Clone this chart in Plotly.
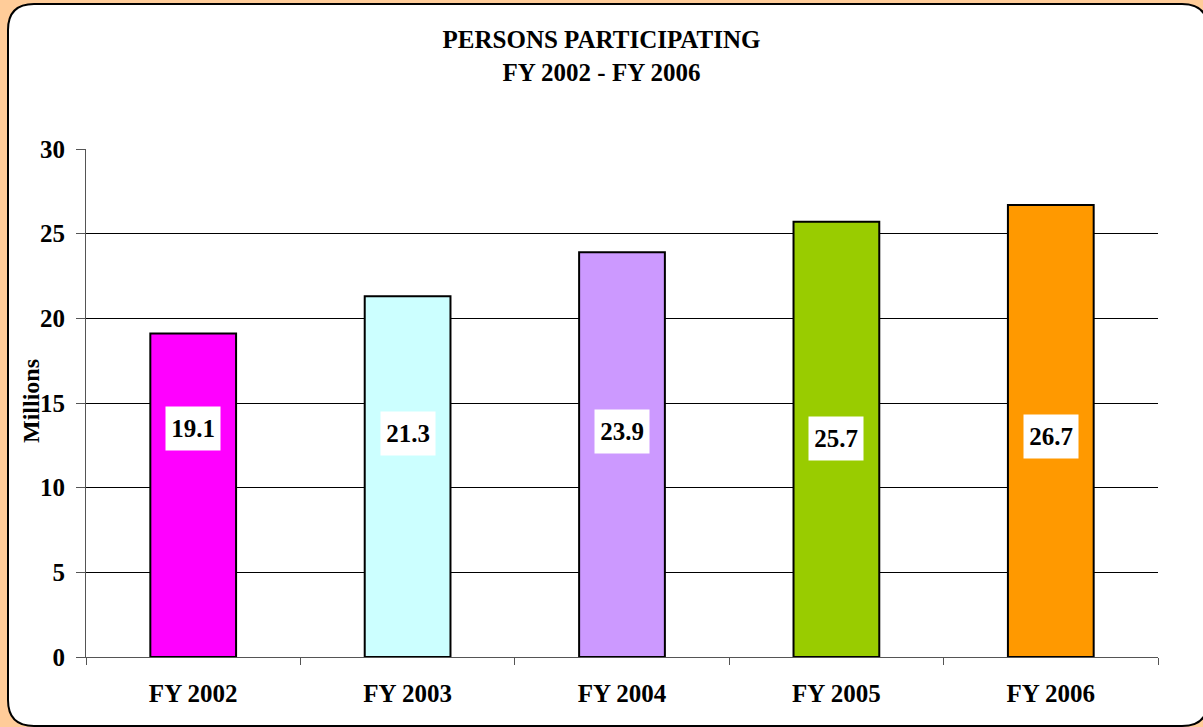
import plotly.graph_objects as go

categories = ["FY 2002", "FY 2003", "FY 2004", "FY 2005", "FY 2006"]
values = [19.1, 21.3, 23.9, 25.7, 26.7]
bar_colors = ["#FF00FF", "#CCFFFF", "#CC99FF", "#99CC00", "#FF9900"]
y_ticks = [0, 5, 10, 15, 20, 25, 30]

# label placement (vertical position in data units, chosen for layout)
label_y = [13.5, 13.2, 13.3, 12.9, 13.0]

W, H = 1203, 727
L, R, T, B = 86, 45, 149, 70
pw, ph = W - L - R, H - T - B

def px(x):
    return (x - L) / pw

def py(y):
    return (H - B - y) / ph

FONT = "Liberation Serif"

fig = go.Figure()
fig.add_trace(go.Bar(
    x=categories, y=values,
    marker=dict(color=bar_colors, line=dict(color="black", width=2)),
    width=0.4, hoverinfo="x+y",
))

for c, v, ly in zip(categories, values, label_y):
    fig.add_annotation(
        x=c, y=ly, text=f"<b>{v}</b>", showarrow=False,
        bgcolor="white", width=54, height=43, borderpad=0,
        font=dict(family=FONT, size=25, color="black"),
    )

# y-axis title
fig.add_annotation(
    x=px(31), y=py(401), xref="paper", yref="paper",
    text="<b>Millions</b>", textangle=-90, showarrow=False,
    xanchor="center", yanchor="middle",
    font=dict(family=FONT, size=24, color="black"),
)

# rounded white panel
x0, x1, y0, y1, r = 8, 1208, 4, 726, 26
path = (
    f"M {px(x0 + r)} {py(y0)} L {px(x1 - r)} {py(y0)} "
    f"Q {px(x1)} {py(y0)} {px(x1)} {py(y0 + r)} "
    f"L {px(x1)} {py(y1 - r)} Q {px(x1)} {py(y1)} {px(x1 - r)} {py(y1)} "
    f"L {px(x0 + r)} {py(y1)} Q {px(x0)} {py(y1)} {px(x0)} {py(y1 - r)} "
    f"L {px(x0)} {py(y0 + r)} Q {px(x0)} {py(y0)} {px(x0 + r)} {py(y0)} Z"
)
fig.add_shape(type="path", path=path, xref="paper", yref="paper",
              fillcolor="white", line=dict(color="black", width=2), layer="below")

fig.update_layout(
    width=W, height=H,
    margin=dict(l=L, r=R, t=T, b=B, autoexpand=False),
    paper_bgcolor="#FFCC99",
    plot_bgcolor="#FFCC99",
    showlegend=False,
    title=dict(
        text="<b>PERSONS PARTICIPATING<br>FY 2002 - FY 2006</b>",
        x=0.5, xref="container", xanchor="center",
        y=1 - 48 / H, yref="container", yanchor="top",
        font=dict(family=FONT, size=25, color="black"),
    ),
    font=dict(family=FONT, color="black"),
    bargap=0.6,
)

fig.update_xaxes(
    type="category", tickson="boundaries", ticks="outside", ticklen=7,
    tickcolor="#555555", showline=True, linecolor="#555555", linewidth=1,
    tickfont=dict(family=FONT, size=25, color="black", weight="bold"),
    ticklabelstandoff=14,
    showgrid=False, automargin=False,
)
fig.update_yaxes(
    range=[0, 30], tickvals=y_ticks, ticks="outside", ticklen=9,
    tickcolor="#555555", showline=True, linecolor="#555555", linewidth=1,
    showgrid=True, gridcolor="black", gridwidth=1, zeroline=False,
    tickfont=dict(family=FONT, size=25, color="black", weight="bold"),
    ticklabelstandoff=6,
    automargin=False,
)

fig.write_html("out.html", config={"displayModeBar": False},
               post_script="document.body.style.margin='0';")
